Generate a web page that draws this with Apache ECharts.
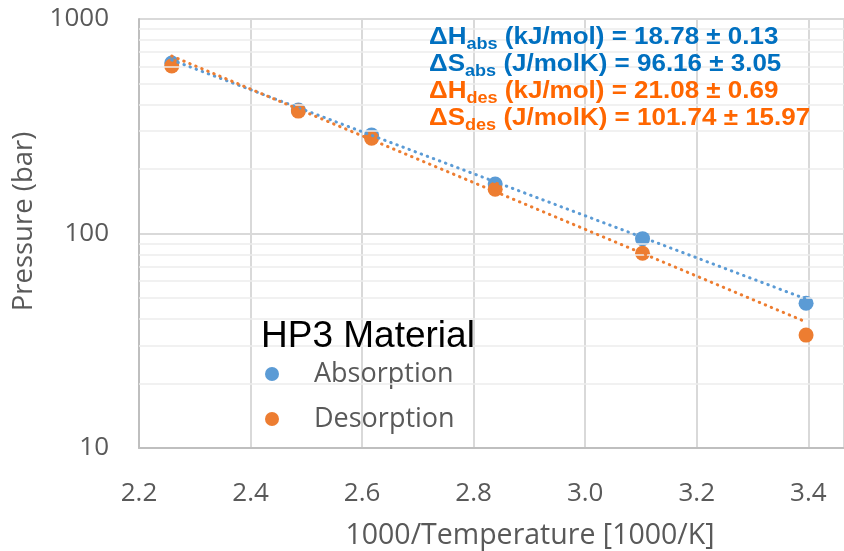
<!DOCTYPE html>
<html>
<head>
<meta charset="utf-8">
<script src="https://cdn.jsdelivr.net/npm/echarts@6/dist/echarts.min.js"></script>
<style>
  html, body { margin: 0; padding: 0; background: #ffffff; }
  #chart { width: 844px; height: 551px; }
</style>
</head>
<body>
<div id="chart"></div>
<script>
// Van 't Hoff data for HP3: pressure against inverse temperature
const inverseTemp = [2.2587, 2.4857, 2.617, 2.8386, 3.1028, 3.396];
const absorptionP = [623, 376, 288, 170, 94.6, 47.3];
const desorptionP = [604, 372, 278, 160.7, 80.9, 33.6];

// Fitted (exponential) trend lines, end points
const absFitX = [2.2587, 3.396];
const absFitP = [644, 49.5];
const desFitX = [2.2587, 3.396];
const desFitP = [672, 38.7];

// Minor log grid lines
const yMinorLines = [20, 30, 40, 50, 60, 70, 80, 90, 200, 300, 400, 500, 600, 700, 800, 900];

// Thermodynamic results
const fitSymbols = ['\u0394H', '\u0394S', '\u0394H', '\u0394S'];
const fitSubs = ['abs', 'abs', 'des', 'des'];
const fitTexts = [
  ' (kJ/mol) = 18.78 \u00b1 0.13',
  ' (J/molK) = 96.16 \u00b1 3.05',
  ' (kJ/mol) = 21.08 \u00b1 0.69',
  ' (J/molK) = 101.74 \u00b1 15.97'
];
const fitColors = ['b', 'b', 'o', 'o'];

const BLUE = '#5B9BD5';
const ORANGE = '#ED7D31';
const AXIS_TEXT = '#595959';
const SANS = "'Open Sans', sans-serif";

const annotation = fitSymbols.map((s, i) => {
  const c = fitColors[i];
  return '{' + c + 'm|' + s + '}{' + c + 's|' + fitSubs[i] + '}{' + c + 'm|' + fitTexts[i] + '}';
}).join('\n');

const mainFont = { fontFamily: 'Liberation Sans', fontWeight: 'bold', fontSize: 23, lineHeight: 27, verticalAlign: 'top' };
const subFont = { fontFamily: 'Liberation Sans', fontWeight: 'bold', fontSize: 16, lineHeight: 15, verticalAlign: 'bottom' };

const chart = echarts.init(document.getElementById('chart'), null, { renderer: 'canvas' });
chart.setOption({
  animation: false,
  backgroundColor: '#ffffff',
  grid: { left: 139, right: 0, top: 19, bottom: 103, containLabel: false, outerBoundsMode: 'none' },
  title: {
    text: 'HP3 Material',
    left: 261,
    top: 318,
    padding: 0,
    textStyle: { fontFamily: 'Liberation Sans', fontSize: 37, fontWeight: 'normal', color: '#000000' }
  },
  legend: {
    data: ['Absorption', 'Desorption'],
    orient: 'vertical',
    left: 265,
    top: 359,
    padding: 0,
    itemWidth: 14,
    itemHeight: 14,
    itemGap: 15,
    icon: 'circle',
    textStyle: { fontFamily: SANS, fontSize: 27, color: AXIS_TEXT, lineHeight: 30, padding: [0, 0, 0, 30] }
  },
  xAxis: {
    type: 'value',
    min: 2.2,
    max: 3.464,
    interval: 0.2,
    name: '1000/Temperature [1000/K]',
    nameLocation: 'middle',
    nameGap: 73,
    nameTextStyle: { fontFamily: SANS, fontSize: 28.5, color: AXIS_TEXT, padding: [0, 0, 0, 77] },
    axisLine: { show: true, lineStyle: { color: '#BFBFBF', width: 2 } },
    axisTick: { show: false },
    axisLabel: {
      margin: 33,
      fontFamily: SANS,
      fontSize: 26,
      color: AXIS_TEXT,
      showMaxLabel: false,
      formatter: v => v.toFixed(1)
    },
    splitLine: { show: true, lineStyle: { color: '#D9D9D9', width: 2 } }
  },
  yAxis: {
    type: 'log',
    logBase: 10,
    min: 10,
    max: 1000,
    name: 'Pressure (bar)',
    nameLocation: 'middle',
    nameGap: 88,
    nameTextStyle: { fontFamily: SANS, fontSize: 27.5, color: AXIS_TEXT, padding: [0, 0, 0, 24] },
    axisLine: { show: true, lineStyle: { color: '#BFBFBF', width: 2 } },
    axisTick: { show: false },
    axisLabel: { margin: 30, fontFamily: SANS, fontSize: 26, color: AXIS_TEXT, formatter: v => String(v) },
    splitLine: { show: true, lineStyle: { color: '#D9D9D9', width: 2 } }
  },
  graphic: [{
    type: 'text',
    left: 429,
    top: 26,
    scaleX: 1.13,
    z: 10,
    style: {
      text: annotation,
      rich: {
        bm: Object.assign({ fill: '#0070C0', color: '#0070C0' }, mainFont),
        bs: Object.assign({ fill: '#0070C0', color: '#0070C0' }, subFont),
        om: Object.assign({ fill: '#FF6600', color: '#FF6600' }, mainFont),
        os: Object.assign({ fill: '#FF6600', color: '#FF6600' }, subFont)
      }
    }
  }],
  series: [
    {
      type: 'line',
      data: [],
      z: 1,
      silent: true,
      markLine: {
        silent: true,
        symbol: 'none',
        label: { show: false },
        animation: false,
        lineStyle: { color: '#EDEDED', type: 'solid', width: 1.5 },
        data: yMinorLines.map(v => ({ yAxis: v }))
      }
    },
    {
      name: 'Absorption',
      type: 'scatter',
      data: inverseTemp.map((x, i) => [x, absorptionP[i]]),
      symbol: 'circle',
      symbolSize: 15,
      itemStyle: { color: BLUE, opacity: 1 },
      z: 3
    },
    {
      name: 'Desorption',
      type: 'scatter',
      data: inverseTemp.map((x, i) => [x, desorptionP[i]]),
      symbol: 'circle',
      symbolSize: 15,
      itemStyle: { color: ORANGE, opacity: 1 },
      z: 4
    },
    {
      name: 'Absorption fit',
      type: 'line',
      data: absFitX.map((x, i) => [x, absFitP[i]]),
      showSymbol: false,
      symbol: 'none',
      silent: true,
      lineStyle: { color: BLUE, width: 3, type: [0.5, 6], cap: 'round' },
      z: 5
    },
    {
      name: 'Desorption fit',
      type: 'line',
      data: desFitX.map((x, i) => [x, desFitP[i]]),
      showSymbol: false,
      symbol: 'none',
      silent: true,
      lineStyle: { color: ORANGE, width: 3, type: [0.5, 6], cap: 'round' },
      z: 5
    }
  ]
});
</script>
</body>
</html>
